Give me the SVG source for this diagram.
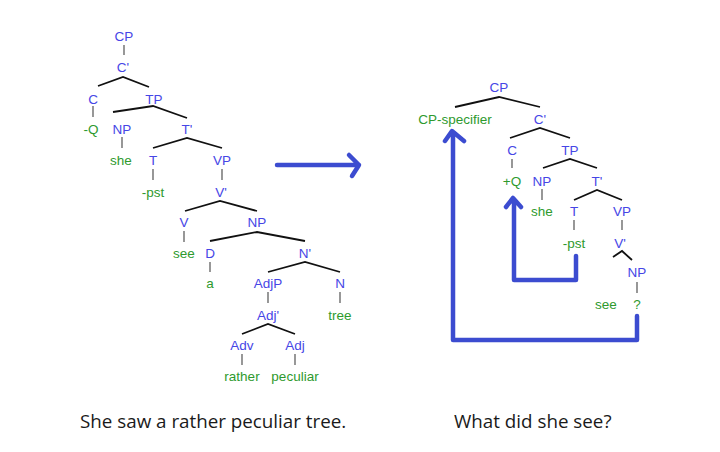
<svg xmlns="http://www.w3.org/2000/svg" width="720" height="452" viewBox="0 0 720 452">
<style>
.c{font-family:"Liberation Sans",Arial,sans-serif;font-size:13.5px;fill:#4646e6;text-anchor:middle}
.w{font-family:"Liberation Sans",Arial,sans-serif;font-size:13.5px;fill:#2e9a2e;text-anchor:middle}
.cap{font-family:"Open Sans","Noto Sans",sans-serif;font-size:18.8px;fill:#1a1a1a}
.b{stroke:#111;stroke-width:1.8;fill:none}
.v{stroke:#444;stroke-width:1.1;fill:none}
.m{stroke:#3c4cd0;stroke-width:4.5;fill:none;stroke-linecap:round;stroke-linejoin:round}
</style>
<rect width="720" height="452" fill="#fff"/>
<g id="connectors">
<!-- left tree -->
<path class="v" d="M124 45V55M93 106V117M122 137V148M153 169V180M222 169V180M184 231V242M210 262V272M268 292V303M340 292V303M242 354V365M295 354V365"/>
<path class="b" d="M98 86L123 77L149 87M113 112L153 106L187 118M153 148L187 138L222 148M185 211L220 201L257 211M210 241L257 232L305 241M268 272L305 262L340 272M242 334L268 324L295 334"/>
<!-- right tree -->
<path class="v" d="M512 159V168M542 189V200M574 220V230M622 220V230M637 282V293"/>
<path class="b" d="M455 107L499 97L540 107M510 138L540 128L570 138M543 168L570 159L597 168M574 200L597 190L622 200M613 257L622 251L632 260"/>
<!-- movement arrows -->
<path class="m" d="M637 316V340H453V132M445 141L452 131L464 141"/>
<path class="m" d="M576 256V280H514V200M506 207L513 198L521 207"/>
<path class="m" d="M277 165H359M349 155L359 165L352 176"/>
</g>
<g id="left-tree">
<text class="c" x="124" y="41">CP</text>
<text class="c" x="123" y="72">C'</text>
<text class="c" x="93" y="104">C</text>
<text class="c" x="154" y="104">TP</text>
<text class="w" x="91" y="134">-Q</text>
<text class="c" x="122" y="134">NP</text>
<text class="c" x="187" y="134">T'</text>
<text class="w" x="121" y="165">she</text>
<text class="c" x="153" y="165">T</text>
<text class="c" x="222" y="165">VP</text>
<text class="w" x="153" y="197">-pst</text>
<text class="c" x="221" y="197">V'</text>
<text class="c" x="184" y="227">V</text>
<text class="c" x="257" y="227">NP</text>
<text class="w" x="184" y="258">see</text>
<text class="c" x="210" y="258">D</text>
<text class="c" x="305" y="258">N'</text>
<text class="w" x="210" y="288">a</text>
<text class="c" x="268" y="288">AdjP</text>
<text class="c" x="340" y="288">N</text>
<text class="c" x="268" y="320">Adj'</text>
<text class="w" x="340" y="320">tree</text>
<text class="c" x="242" y="350">Adv</text>
<text class="c" x="295" y="350">Adj</text>
<text class="w" x="242" y="381">rather</text>
<text class="w" x="295" y="381">peculiar</text>
</g>
<g id="right-tree">
<text class="c" x="499" y="92">CP</text>
<text class="w" x="455" y="124">CP-specifier</text>
<text class="c" x="540" y="124">C'</text>
<text class="c" x="512" y="155">C</text>
<text class="c" x="570" y="155">TP</text>
<text class="w" x="512" y="186">+Q</text>
<text class="c" x="542" y="186">NP</text>
<text class="c" x="597" y="186">T'</text>
<text class="w" x="542" y="216">she</text>
<text class="c" x="574" y="216">T</text>
<text class="c" x="622" y="216">VP</text>
<text class="w" x="574" y="248">-pst</text>
<text class="c" x="620" y="248">V'</text>
<text class="c" x="637" y="277">NP</text>
<text class="w" x="606" y="309">see</text>
<text class="w" x="637" y="309">?</text>
</g>
<g id="captions">
<text class="cap" x="80" y="428">She saw a rather peculiar tree.</text>
<text class="cap" x="454" y="428">What did she see?</text>
</g>
</svg>
